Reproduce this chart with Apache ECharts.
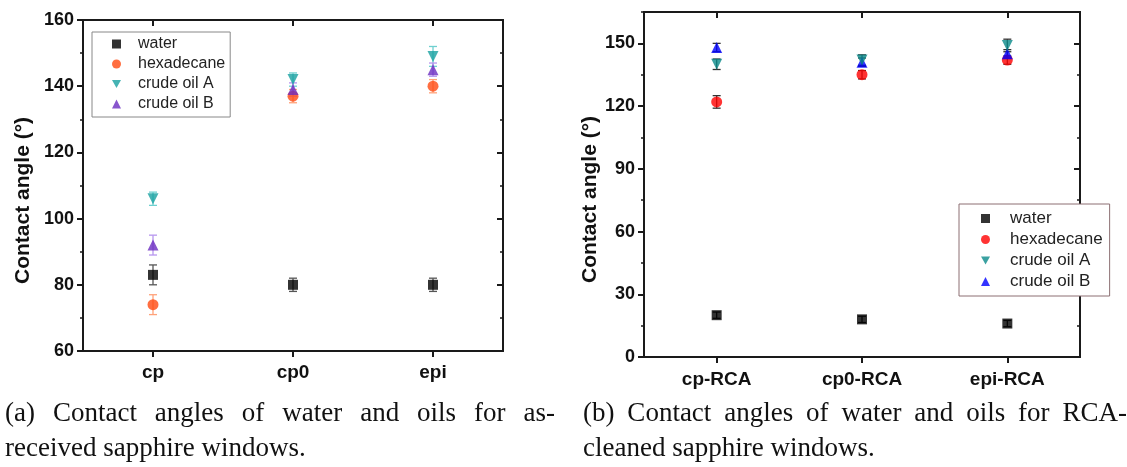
<!DOCTYPE html>
<html>
<head>
<meta charset="utf-8">
<script src="https://cdn.jsdelivr.net/npm/echarts@6/dist/echarts.min.js"></script>
<style>
  html, body { margin: 0; padding: 0; background: #fff; }
  #main { width: 1127px; height: 467px; }
</style>
</head>
<body>
<div id="main"></div>
<script>
// categories
const catsA = ['cp', 'cp0', 'epi'];
const catsB = ['cp-RCA', 'cp0-RCA', 'epi-RCA'];
const names = ['water', 'hexadecane', 'crude oil A', 'crude oil B'];

// (a) as-received windows: mean and error
const waterA = [83, 80, 80];
const waterAErr = [3, 2, 2];
const hexA = [74, 137, 140];
const hexAErr = [3, 2, 2];
const oilAA = [106, 142, 149];
const oilAAErr = [2, 2, 3];
const oilBA = [92, 139, 145];
const oilBAErr = [3, 2, 2];

// (b) RCA-cleaned windows
const waterB = [20, 18, 16];
const waterBErr = [1.5, 1.5, 1.5];
const hexB = [122, 135, 142];
const hexBErr = [3, 2, 2];
const oilAB = [140, 142, 149];
const oilABErr = [2.5, 2.5, 3];
const oilBB = [148, 141, 145];
const oilBBErr = [2, 2, 2];

const yTicksA = { min: 60, max: 160, step: 20 };
const yTicksB = { min: 0, max: 165, step: 30 };

const captionA = ['(a) Contact angles of water and oils for as-', 'received sapphire windows.'];
const captionB = ['(b) Contact angles of water and oils for RCA-', 'cleaned sapphire windows.'];

const symbols = ['rect', 'circle', 'path://M0,0L10,0L5,9Z', 'triangle'];
const colorsA = ['#000000', '#ff4a10', '#17a0a0', '#6a2cc0'];
const errColorsA = ['#555555', '#ffa27a', '#6fd0d0', '#b796ee'];
const colorsB = ['#000000', '#ff0000', '#0a8a8a', '#0000ff'];
const errColorsB = ['#222222', '#333333', '#333333', '#333333'];
// draw order of the marker layers (crude oil A on top)
const zOrder = [3, 4, 6, 5];

const valsA = [waterA, hexA, oilAA, oilBA];
const errsA = [waterAErr, hexAErr, oilAAErr, oilBAErr];
const valsB = [waterB, hexB, oilAB, oilBB];
const errsB = [waterBErr, hexBErr, oilABErr, oilBBErr];

const chart = echarts.init(document.getElementById('main'));
const font = 'Liberation Sans, Arial, sans-serif';
const axisCol = '#1a1a1a';

function errBar(color) {
  return function (params, api) {
    const lo = api.coord([api.value(0), api.value(1)]);
    const hi = api.coord([api.value(0), api.value(2)]);
    const w = 4;
    const st = { stroke: color, lineWidth: 1.3 };
    return {
      type: 'group',
      children: [
        { type: 'line', shape: { x1: lo[0], y1: lo[1], x2: hi[0], y2: hi[1] }, style: st },
        { type: 'line', shape: { x1: lo[0] - w, y1: lo[1], x2: lo[0] + w, y2: lo[1] }, style: st },
        { type: 'line', shape: { x1: hi[0] - w, y1: hi[1], x2: hi[0] + w, y2: hi[1] }, style: st }
      ]
    };
  };
}

function xPair(cats, gridIndex, margin) {
  return [
    {
      type: 'category', data: cats, gridIndex: gridIndex, position: 'bottom',
      axisLine: { show: true, onZero: false, lineStyle: { color: axisCol, width: 2 } },
      axisTick: { show: true, alignWithLabel: true, length: 6, lineStyle: { color: axisCol, width: 2 } },
      axisLabel: { color: '#111', fontSize: 19, fontWeight: 'bold', fontFamily: font, margin: margin },
      splitLine: { show: false }
    },
    {
      type: 'category', data: cats, gridIndex: gridIndex, position: 'top',
      axisLine: { show: true, onZero: false, lineStyle: { color: axisCol, width: 2 } },
      axisTick: { show: true, alignWithLabel: true, inside: true, length: 6, lineStyle: { color: axisCol, width: 2 } },
      axisLabel: { show: false },
      splitLine: { show: false }
    }
  ];
}

function yAxes(t, gridIndex, nameGap) {
  const base = { type: 'value', gridIndex: gridIndex, min: t.min, max: t.max, splitLine: { show: false } };
  const line = { show: true, onZero: false, lineStyle: { color: axisCol, width: 2 } };
  return [
    Object.assign({}, base, {
      position: 'left', interval: t.step,
      name: 'Contact angle (°)', nameLocation: 'middle', nameGap: nameGap,
      nameTextStyle: { fontSize: 21, fontWeight: 'bold', fontFamily: font, color: '#111', padding: [0, 30, 0, 0] },
      axisLine: line,
      axisTick: { show: true, length: 6, lineStyle: { color: axisCol, width: 2 } },
      axisLabel: { color: '#111', fontSize: 18, fontWeight: 'bold', fontFamily: font, margin: 9, showMaxLabel: t.max % t.step === 0 }
    }),
    Object.assign({}, base, {
      position: 'left', interval: t.step / 2,
      axisLine: line,
      axisTick: { show: true, length: 3, lineStyle: { color: axisCol, width: 1.5 } },
      axisLabel: { show: false }
    }),
    Object.assign({}, base, {
      position: 'right', interval: t.step,
      axisLine: line,
      axisTick: { show: true, inside: true, length: 6, lineStyle: { color: axisCol, width: 2 } },
      axisLabel: { show: false }
    }),
    Object.assign({}, base, {
      position: 'right', interval: t.step / 2,
      axisLine: line,
      axisTick: { show: true, inside: true, length: 3, lineStyle: { color: axisCol, width: 1.5 } },
      axisLabel: { show: false }
    })
  ];
}

const series = [];
function addPanel(vals, errs, colors, errColors, xi, yi, suffix, size) {
  vals.forEach(function (v, k) {
    series.push({
      type: 'custom', name: names[k] + ' err' + suffix,
      xAxisIndex: xi, yAxisIndex: yi, z: 2,
      renderItem: errBar(errColors[k]),
      encode: { x: 0, y: [1, 2] },
      data: v.map(function (m, i) { return [i, m - errs[k][i], m + errs[k][i]]; })
    });
  });
  vals.forEach(function (v, k) {
    series.push({
      type: 'scatter', name: names[k] + suffix,
      xAxisIndex: xi, yAxisIndex: yi, z: zOrder[k],
      symbol: symbols[k], symbolSize: k === 0 ? size - 1 : size,
      itemStyle: { color: colors[k] },
      data: v
    });
  });
}
// right panel names carry a zero-width space so each legend keeps its own colours
addPanel(valsA, errsA, colorsA, errColorsA, 0, 0, '', 11);
addPanel(valsB, errsB, colorsB, errColorsB, 2, 4, '\u200B', 11);

function legendFor(suffix, left, top, pad, textPad, fs, lh, border) {
  return {
    left: left, top: top, orient: 'vertical',
    data: names.map(function (n) { return n + suffix; }),
    itemWidth: 9, itemHeight: 9, itemGap: 4,
    padding: pad, borderColor: border, borderWidth: 1, backgroundColor: '#fff',
    textStyle: { fontFamily: font, fontSize: fs, lineHeight: lh, color: '#222', padding: [0, 0, 0, textPad] },
    selectedMode: false
  };
}

// caption lines; the first line of each is justified to the given width
const capFont = '27px "Liberation Serif", serif';
const measure = document.createElement('canvas').getContext('2d');
measure.font = capFont;
function captionTexts(lines, x, width) {
  const out = [];
  const words = lines[0].split(' ');
  const total = words.reduce(function (s, w) { return s + measure.measureText(w).width; }, 0);
  const gap = (width - total) / (words.length - 1);
  let cx = x;
  words.forEach(function (w) {
    out.push({ type: 'text', x: cx, y: 414, style: { text: w, font: capFont, fill: '#111', textVerticalAlign: 'middle' } });
    cx += measure.measureText(w).width + gap;
  });
  out.push({ type: 'text', x: x, y: 449, style: { text: lines[1], font: capFont, fill: '#111', textVerticalAlign: 'middle' } });
  return out;
}

chart.setOption({
  animation: false,
  backgroundColor: '#fff',
  grid: [
    { left: 83, top: 20, width: 420, height: 331 },
    { left: 644, top: 12, width: 436, height: 345 }
  ],
  xAxis: xPair(catsA, 0, 12).concat(xPair(catsB, 1, 13)),
  yAxis: yAxes(yTicksA, 0, 49).concat(yAxes(yTicksB, 1, 39)),
  legend: [
    legendFor('', 92, 32, [4, 5, 5, 20], 12, 16, 16, '#888888'),
    legendFor('\u200B', 959, 204, [6, 7, 6, 22], 15, 17, 17, '#8c6f73')
  ],
  graphic: captionTexts(captionA, 5, 550).concat(captionTexts(captionB, 583, 544)),
  series: series
});
</script>
</body>
</html>
